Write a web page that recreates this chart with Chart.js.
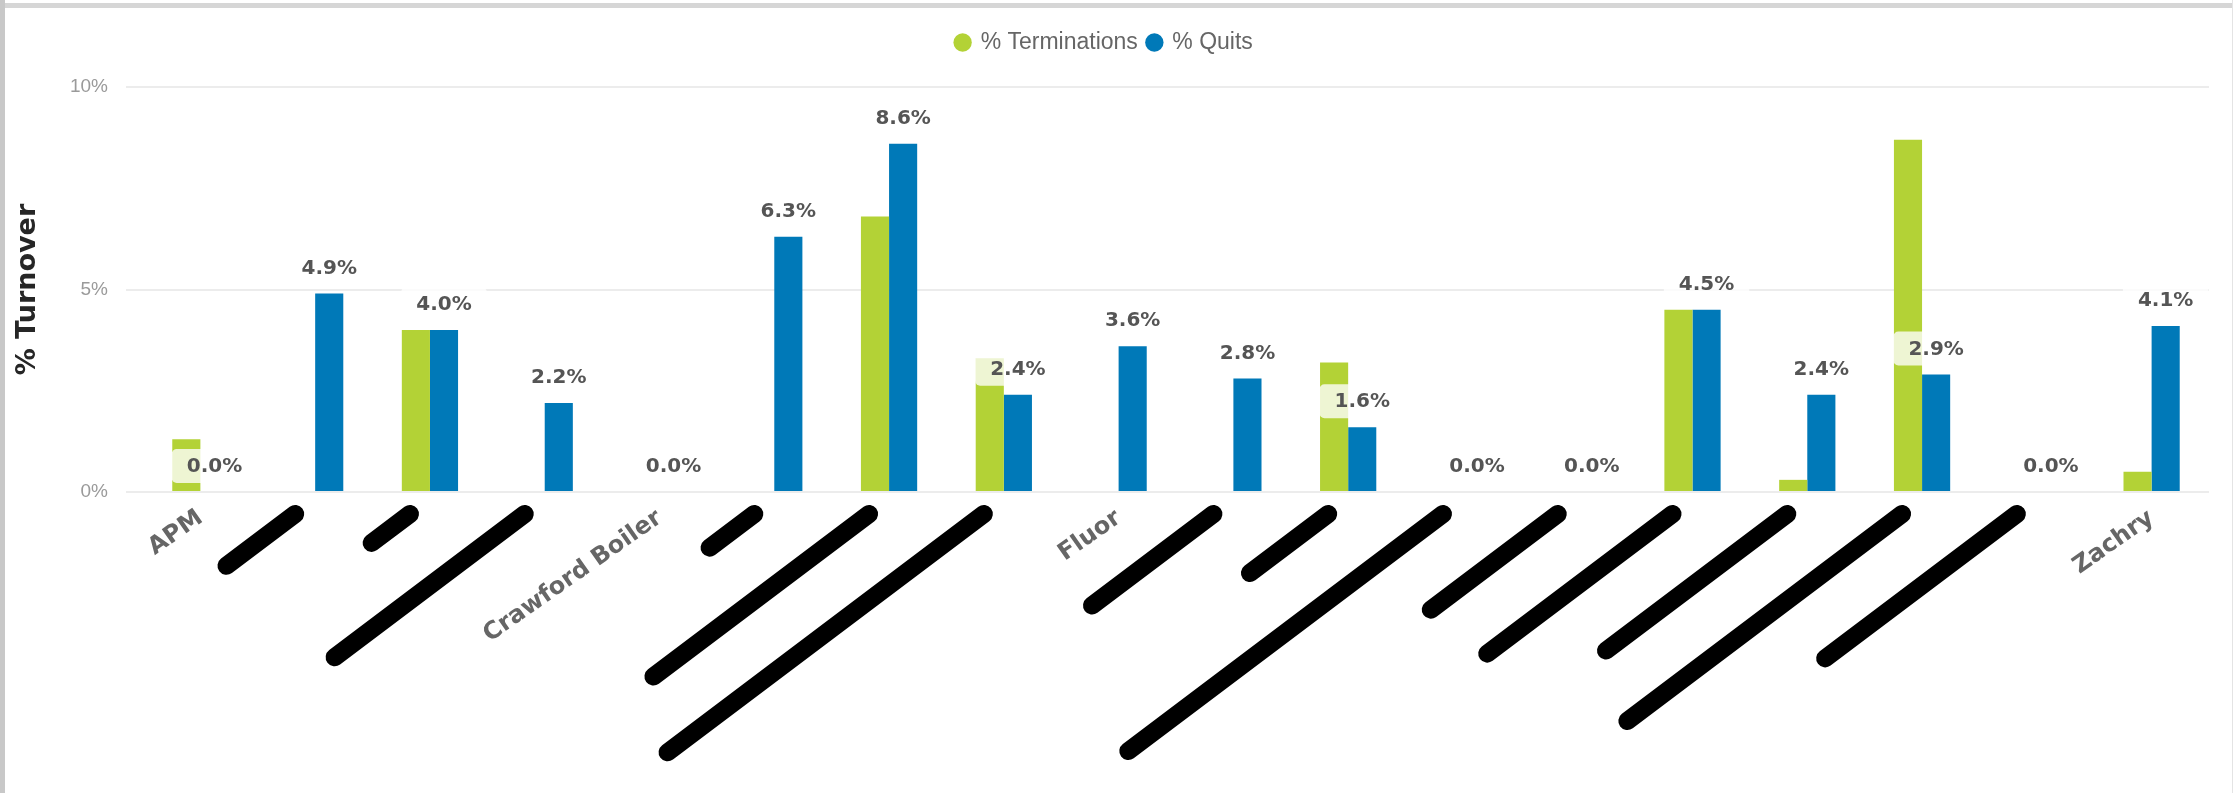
<!DOCTYPE html>
<html>
<head>
<meta charset="utf-8">
<script src="https://cdn.jsdelivr.net/npm/chart.js@4.4.0/dist/chart.umd.min.js"></script>
<style>
  html, body { margin: 0; padding: 0; background: #fff; }
  #wrap { position: relative; width: 2233px; height: 793px; overflow: hidden; }
  #turnover { position: absolute; left: 0; top: 0; }
  #frameTop { position: absolute; left: 0; top: 3px; width: 2233px; height: 5px; background: #d6d6d6; }
  #frameLeft { position: absolute; left: 0; top: 0; width: 5px; height: 793px; background: #c8c8c8; }
  #frameRight { position: absolute; right: 0; top: 0; width: 1px; height: 793px; background: #e4e4e4; }
</style>
</head>
<body>
<div id="wrap">
  <canvas id="turnover" width="2233" height="793"></canvas>
  <div id="frameTop"></div>
  <div id="frameLeft"></div>
  <div id="frameRight"></div>
</div>
<script>
// company names (most are blacked out in the source, kept blank here)
const companies = ['APM', '', '', '', 'Crawford Boiler', '', '', '', 'Fluor', '', '', '', '', '', '', '', '', 'Zachry'];
const terminations = [1.3, 0, 4.0, 0, 0, 0, 6.8, 3.3, 0, 0, 3.2, 0, 0, 4.5, 0.3, 8.7, 0, 0.5];
const quits = [0.0, 4.9, 4.0, 2.2, 0.0, 6.3, 8.6, 2.4, 3.6, 2.8, 1.6, 0.0, 0.0, 4.5, 2.4, 2.9, 0.0, 4.1];
const yTicks = [0, 5, 10];

const GREEN = '#b3d236';
const BLUE = '#0079b8';

// length of the marker scribbles over the redacted names (px)
const redactLen = [0, 86, 48, 238, 0, 56, 270, 396, 0, 152, 98, 394, 159, 232, 227, 344, 240, 0];

// legend needs more room above the plot than chart.js gives it
const legendSpace = {
    id: 'legendSpace',
    beforeInit(chart) {
        const fit = chart.legend.fit;
        chart.legend.fit = function () {
            fit.call(this);
            this.height = 66;
        };
    }
};

// value labels on the quits bars, with the light box behind
const valueLabels = {
    id: 'valueLabels',
    afterDatasetsDraw(chart) {
        const ctx = chart.ctx;
        const meta = chart.getDatasetMeta(1);
        ctx.save();
        ctx.font = 'bold 20px "DejaVu Sans"';
        ctx.textAlign = 'center';
        ctx.textBaseline = 'middle';
        meta.data.forEach(function (bar, i) {
            const txt = quits[i].toFixed(1) + '%';
            const w = ctx.measureText(txt).width + 30;
            const cy = bar.y - 25;
            ctx.fillStyle = 'rgba(255, 255, 255, 0.78)';
            ctx.beginPath();
            ctx.roundRect(bar.x - w / 2, cy - 18, w, 34, 5);
            ctx.fill();
            ctx.fillStyle = '#555555';
            ctx.fillText(txt, bar.x, cy);
        });
        ctx.restore();
    }
};

const redactions = {
    id: 'redactions',
    afterDraw(chart) {
        const ctx = chart.ctx;
        const xs = chart.scales.x;
        const base = chart.chartArea.bottom;
        const a = 37 * Math.PI / 180;
        ctx.save();
        ctx.strokeStyle = '#000';
        ctx.lineWidth = 18;
        ctx.lineCap = 'round';
        redactLen.forEach(function (len, i) {
            if (!len) return;
            const x0 = xs.getPixelForTick(i) - 20;
            const y0 = base + 22;
            ctx.beginPath();
            ctx.moveTo(x0, y0);
            ctx.lineTo(x0 - len * Math.cos(a), y0 + len * Math.sin(a));
            ctx.stroke();
        });
        ctx.restore();
    }
};

const turnoverChart = new Chart(document.getElementById('turnover').getContext('2d'), {
    type: 'bar',
    data: {
        labels: companies,
        datasets: [{
            label: '% Terminations',
            data: terminations,
            backgroundColor: GREEN,
            categoryPercentage: 0.49,
            barPercentage: 1.0
        }, {
            label: '% Quits',
            data: quits,
            backgroundColor: BLUE,
            categoryPercentage: 0.49,
            barPercentage: 1.0
        }]
    },
    options: {
        responsive: false,
        animation: false,
        layout: {
            padding: { top: 21, left: 0, right: 24, bottom: 0 }
        },
        plugins: {
            tooltip: { enabled: false },
            legend: {
                position: 'top',
                labels: {
                    usePointStyle: true,
                    pointStyle: 'circle',
                    boxWidth: 13,
                    boxHeight: 13,
                    padding: 10,
                    color: '#666666',
                    font: { family: '"Liberation Sans", Arial, sans-serif', size: 23 }
                }
            }
        },
        scales: {
            x: {
                grid: { display: false },
                border: { display: false },
                ticks: {
                    autoSkip: false,
                    maxRotation: 35,
                    minRotation: 35,
                    padding: 4,
                    color: '#666666',
                    font: { family: '"DejaVu Sans", sans-serif', size: 24, weight: 'bold' }
                },
                afterFit(scale) { scale.height = 301; }
            },
            y: {
                min: yTicks[0],
                max: yTicks[yTicks.length - 1],
                afterBuildTicks(scale) {
                    scale.ticks = yTicks.map(function (v) { return { value: v }; });
                },
                grid: { color: '#ececec', lineWidth: 2, drawTicks: true, tickLength: 17 },
                border: { display: false },
                ticks: {
                    padding: 18,
                    color: '#9a9a9a',
                    font: { family: '"Liberation Sans", Arial, sans-serif', size: 19 },
                    callback: function (v) { return v + '%'; }
                },
                title: {
                    display: true,
                    text: '% Turnover',
                    color: '#262626',
                    padding: { top: 12, bottom: 0 },
                    font: { family: '"DejaVu Sans", sans-serif', size: 27, weight: 'bold' }
                },
                afterFit(scale) { scale.width = 143; }
            }
        }
    },
    plugins: [legendSpace, valueLabels, redactions]
});
</script>
</body>
</html>
